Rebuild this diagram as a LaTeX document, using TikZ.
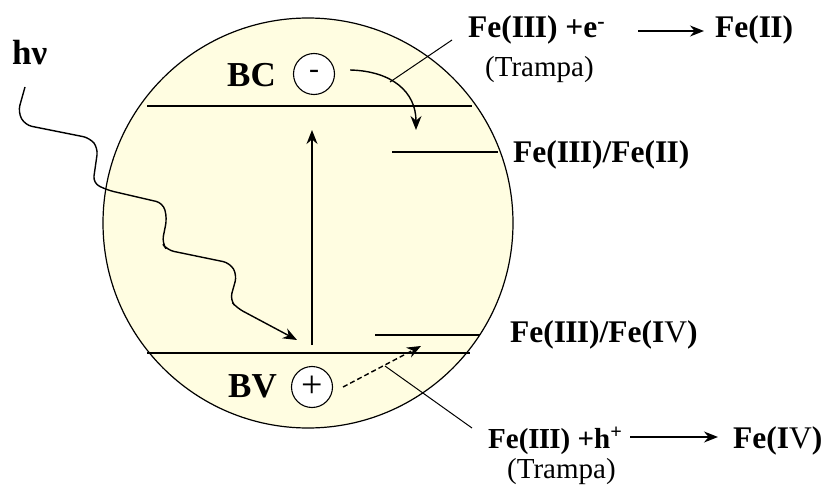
\documentclass[tikz,border=0pt]{standalone}
\usepackage{fontspec}
\setmainfont{Liberation Serif}
\usetikzlibrary{arrows.meta}
\definecolor{cellfill}{HTML}{FFFDE1}
\newcommand{\rIII}{I\kern-0.8pt I\kern-0.8pt I}
\newcommand{\rII}{I\kern-0.8pt I}
\begin{document}
\begin{tikzpicture}[x=1pt,y=-1pt,
  lab/.style={inner sep=0pt,anchor=base west,font=\fontsize{31.5}{36}\selectfont\bfseries},
  labsm/.style={inner sep=0pt,anchor=base west,font=\fontsize{29}{34}\selectfont\bfseries},
  big/.style={inner sep=0pt,anchor=base west,font=\fontsize{35}{40}\selectfont\bfseries},
  trap/.style={inner sep=0pt,anchor=base west,font=\fontsize{29}{34}\selectfont},
  ln/.style={line width=1.4pt},
  arr/.style={line width=1.4pt,-{Stealth[length=14pt,width=11pt]}},
  charge/.style={circle,draw,line width=1.1pt,fill=white,minimum size=41pt,inner sep=0pt,font=\fontsize{38}{40}\selectfont}]
\useasboundingbox (0,0) rectangle (831,495);

% the particle
\node[circle,draw,fill=cellfill,minimum size=410pt,inner sep=0pt,line width=1.2pt] (cell) at (308,223) {};

% band levels
\coordinate (bcL) at (147,106); \coordinate (bcR) at (472,106);
\coordinate (bvL) at (147,353); \coordinate (bvR) at (470,353);
\coordinate (f2L) at (392,152); \coordinate (f2R) at (498,152);
\coordinate (f4L) at (375,335); \coordinate (f4R) at (480,335);
\draw[ln] (bcL) -- (bcR);
\draw[ln] (bvL) -- (bvR);
\draw[ln] (f2L) -- (f2R);
\draw[ln] (f4L) -- (f4R);

% labels in the particle
\node[big] (bc) at (227,87) {BC};
\node[big] (bv) at (228,397) {BV};
\node[charge,font=\fontsize{30}{32}\selectfont] (minus) at (314,74) {-};
\node[charge] (plus) at (312,387) {+};

% excitation arrow
\coordinate (exB) at (312,345); \coordinate (exT) at (312,130);
\draw[arr] (exB) -- (exT);

% photon
\node[big] (hv) at (12,65) {hν};
\coordinate (wS) at (25,87);
\coordinate (wT) at (297,340);
\draw[arr,rounded corners=7pt] (wS) -- (18,112) -- (25,125) -- (90,138) -- (98,148) -- (93,183) -- (107,190) -- (163,203) -- (167,218) -- (162,243) -- (167,250) -- (230,263) -- (237,275) -- (230,300) -- (237,308) -- (wT);

% electron trapping
\coordinate (eT) at (416,130);
\draw[arr] ([xshift=15pt,yshift=4pt]minus.east) .. controls (392,71) and (416,92) .. (eT);
% hole trapping
\coordinate (hT) at (421,346);
\draw[line width=1.4pt,dashed,dash pattern=on 5pt off 3pt,-{Stealth[length=14pt,width=11pt]}] ([xshift=10pt]plus.east) -- (hT);

% outside texts
\node[lab] (feE) at (468,38) {Fe(\rIII) +e\textsuperscript{-}};
\node[lab] (fe2) at (715,38) {Fe(\rII)};
\node[trap] (tr1) at (485,77) {(Trampa)};
\node[lab] (f32) at (513,162) {Fe(\rIII)/Fe(\rII)};
\node[lab] (f34) at (510,342) {Fe(\rIII)/Fe(I{\mdseries V})};
\node[labsm] (feH) at (488,448) {Fe(\rIII) +h\textsuperscript{+}};
\node[lab] (fe4) at (733,448) {Fe(I{\mdseries V})};
\node[trap] (tr2) at (507,478) {(Trampa)};

% reaction arrows
\coordinate (r1a) at (638,31); \coordinate (r1b) at (704,31);
\coordinate (r2a) at (630,437); \coordinate (r2b) at (718,437);
\draw[arr] (r1a) -- (r1b);
\draw[arr] (r2a) -- (r2b);

% pointer lines
\coordinate (p1a) at (452,40); \coordinate (p1b) at (390,82);
\draw[line width=1pt] (p1a) -- (p1b);
\coordinate (p2a) at (472,428); \coordinate (p2b) at (385,366);
\draw[line width=1pt] (p2a) -- (p2b);
\end{tikzpicture}
\end{document}
